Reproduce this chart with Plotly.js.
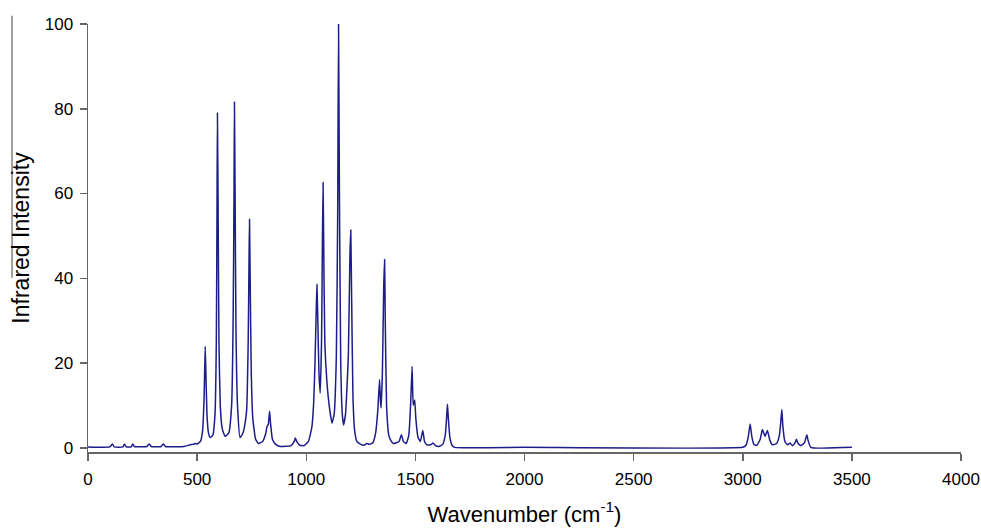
<!DOCTYPE html>
<html>
<head>
<meta charset="utf-8">
<script src="https://cdn.plot.ly/plotly-3.0.1.min.js"></script>
<style>html,body{margin:0;padding:0;background:#fff;}#chart{width:981px;height:528px;}</style>
</head>
<body>
<div id="chart"></div>
<script>
// Wavenumber (cm^-1) sample points
const wavenumber = [
  0,100,112,120,160,167,175,198,205,212,270,281,290,335,345,355,440,468,482,491,500,
  515,525,532,537,540,545,552,560,572,582,588,591,593,596,600,606,615,628,645,658,665,669,671,674,678,685,697,
  710,720,727,734,738,740,743,748,755,768,781,800,815,820,826,832,836,845,860,881,930,945,950,956,970,990,
  1010,1026,1034,1040,1046,1049,1053,1058,1064,1070,1074,1077,1080,1085,1095,1105,1118,1128,1138,1144,1148,1152,1158,1165,1171,
  1180,1193,1200,1204,1208,1214,1222,1232,1250,1265,1278,1290,1305,1318,1328,1336,1340,1343,1349,1355,1359,1362,1368,1378,1390,1400,
  1425,1436,1445,1458,1470,1478,1485,1490,1497,1502,1512,1523,1534,1542,1553,1570,1581,1592,1607,1625,1637,1643,1647,1651,1658,1668,1680,
  2000,3000,3015,3025,3034,3042,3052,3065,3080,3090,3102,3113,3124,3136,3155,3168,3175,3179,3184,3193,3205,3217,3228,3240,3246,3254,3266,
  3283,3290,3294,3299,3312,3500
];
// Infrared intensity at those points
const intensity = [
  0.2,0.2,0.9,0.2,0.2,0.9,0.2,0.2,0.9,0.3,0.3,0.9,0.3,0.3,0.9,0.3,0.3,0.7,0.8,1.0,0.9,
  1.5,4,12,23.9,18,8,3.5,2.4,3,8,25,55,79,58,25,10,4.5,2.7,3.5,10,30,60,81.6,60,28,10,2.4,
  3.5,5.9,9,25,45,53.9,40,18,7,2,1.0,1.5,3.5,5,5.5,8.6,6,2,0.8,0.3,0.5,1.5,2.3,1.5,0.6,0.5,
  1.5,5,10.6,20,33,38.5,30,18,12.9,25,48,62.6,48,25,15.3,10,5.8,8,22,55,100,60,20,8,5.4,
  8,22,45,51.4,35,12,4,1.5,0.8,0.6,1.0,0.8,1.2,3.5,9,16.1,11,9.4,18,38,44.4,30,10,3,1.5,1.0,
  1.5,3.1,1.5,1.0,3,10,19.2,10,11.3,7,2.5,1.5,4.1,1.5,0.7,0.7,1.1,0.5,0.3,0.8,3,7,10.3,7,2.5,0.6,0.1,
  0.1,0.1,0.6,2.5,5.6,2.5,0.7,0.6,2,4.3,2.7,4.1,1.8,0.7,1,3,6.5,9.0,5,1.5,0.7,1.1,0.5,1.2,2.0,1,0.5,
  1.2,2.5,3.1,1.8,0.1,0.1
];
const xTicks = [0,500,1000,1500,2000,2500,3000,3500,4000];
const yTicks = [0,20,40,60,80,100];

const trace = {
  x: wavenumber, y: intensity, type: 'scatter', mode: 'lines',
  line: {color: '#1c1c8a', width: 1.5, shape: 'spline', smoothing: 0.4},
  hoverinfo: 'skip'
};
const fam = 'Liberation Sans, Arial, sans-serif';
const axisFont = {family: fam, size: 17, color: '#000'};
const layout = {
  width: 981, height: 528,
  margin: {l: 88, r: 20, t: 24, b: 76},
  paper_bgcolor: '#fff', plot_bgcolor: '#fff',
  showlegend: false,
  xaxis: {
    range: [0, 4000], tickvals: xTicks, ticktext: xTicks.map(String),
    showgrid: false, zeroline: false, showline: true, linecolor: '#666', linewidth: 1.5,
    ticks: 'outside', ticklen: 7, tickcolor: '#666', tickwidth: 1.5,
    tickfont: axisFont, ticklabelstandoff: 4,
    title: {text: 'Wavenumber (cm<sup>-1</sup>)', font: {family: fam, size: 22, color: '#000'}, standoff: 18}
  },
  yaxis: {
    range: [-1.0, 100], tickvals: yTicks, ticktext: yTicks.map(String),
    showgrid: false, zeroline: false, showline: true, linecolor: '#666', linewidth: 1.5,
    ticks: 'outside', ticklen: 7, tickcolor: '#666', tickwidth: 1.5,
    tickfont: axisFont, ticklabelstandoff: 3,
    title: {text: 'Infrared Intensity', font: {family: fam, size: 23, color: '#000'}, standoff: 8}
  },
  shapes: [{
    type: 'line', xref: 'paper', yref: 'paper',
    x0: -0.087, x1: -0.087, y0: 0.407, y1: 1.019,
    line: {color: '#808080', width: 1.5}
  }]
};
Plotly.newPlot('chart', [trace], layout, {staticPlot: true, displayModeBar: false});
</script>
</body>
</html>
